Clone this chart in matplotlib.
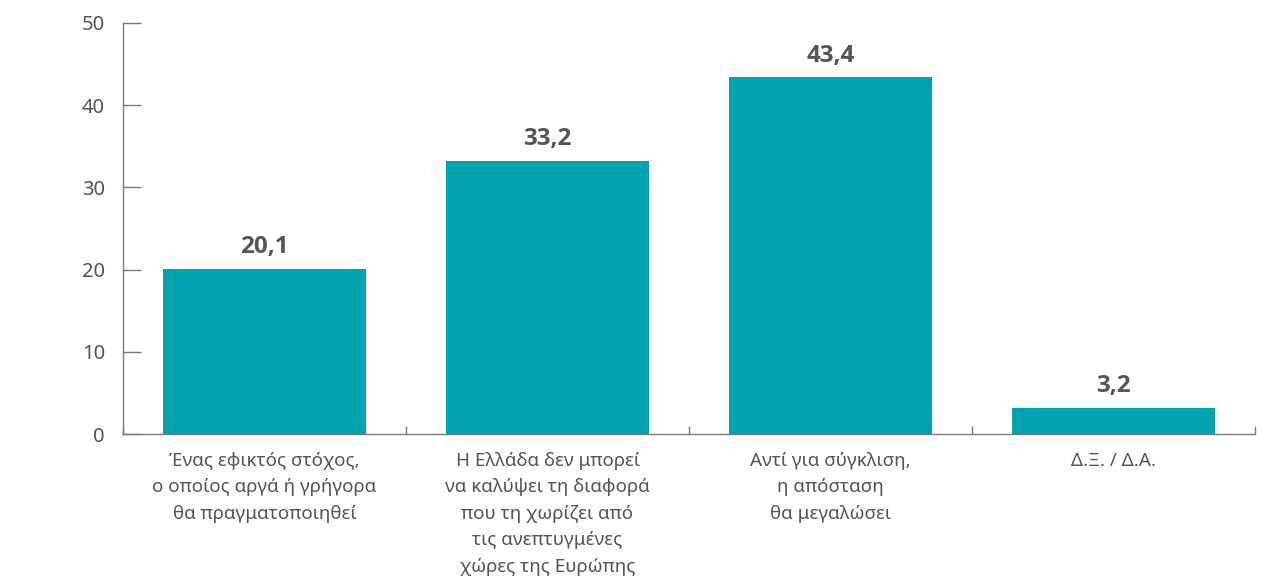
import numpy as np
import matplotlib
matplotlib.use("Agg")
import matplotlib.pyplot as plt
from matplotlib.ticker import FixedLocator

# data
categories = [
    "Ένας εφικτός στόχος,\nο οποίος αργά ή γρήγορα\nθα πραγματοποιηθεί",
    "Η Ελλάδα δεν μπορεί\nνα καλύψει τη διαφορά\nπου τη χωρίζει από\nτις ανεπτυγμένες\nχώρες της Ευρώπης",
    "Αντί για σύγκλιση,\nη απόσταση\nθα μεγαλώσει",
    "Δ.Ξ. / Δ.Α.",
]
values = [20.1, 33.2, 43.4, 3.2]
yticks = [0, 10, 20, 30, 40, 50]

bar_color = "#00a3af"
axis_color = "#7a7a7a"
text_color = "#555555"

plt.rcParams['font.family'] = ['Noto Sans', 'DejaVu Sans']

fig = plt.figure(figsize=(12.8, 5.85), dpi=100)
ax = fig.add_axes([0.0961, 0.2581, 0.8844, 0.7026])

x = np.arange(len(values))
bars = ax.bar(x, values, width=0.72, color=bar_color, zorder=2)

for xi, v in zip(x, values):
    ax.annotate(f"{v:.1f}".replace(".", ","), (xi, v), xytext=(0, 7),
                textcoords="offset points", ha="center", va="bottom",
                fontsize=17.5, fontweight="bold", color=text_color,
                family=["Open Sans", "DejaVu Sans"])

ax.set_xlim(-0.5, len(values) - 0.5)
ax.set_ylim(0, 50)
ax.set_yticks(yticks)
ax.set_yticklabels([str(t) for t in yticks])

ax.set_xticks(x)
ax.set_xticklabels(categories, fontsize=13.5, color=text_color, linespacing=1.6)
ax.xaxis.set_minor_locator(FixedLocator(np.arange(-0.5, len(values), 1.0)))
ax.tick_params(axis="x", which="major", length=0, pad=13)
ax.tick_params(axis="x", which="minor", direction="in", length=6,
               color=axis_color, width=1)
ax.tick_params(axis="y", direction="in", length=13, color=axis_color,
               width=1, labelsize=14.5, labelcolor=text_color, pad=13)

for side in ("top", "right"):
    ax.spines[side].set_visible(False)
for side in ("left", "bottom"):
    ax.spines[side].set_color(axis_color)
    ax.spines[side].set_linewidth(1)

fig.savefig("out.png", dpi=100)
